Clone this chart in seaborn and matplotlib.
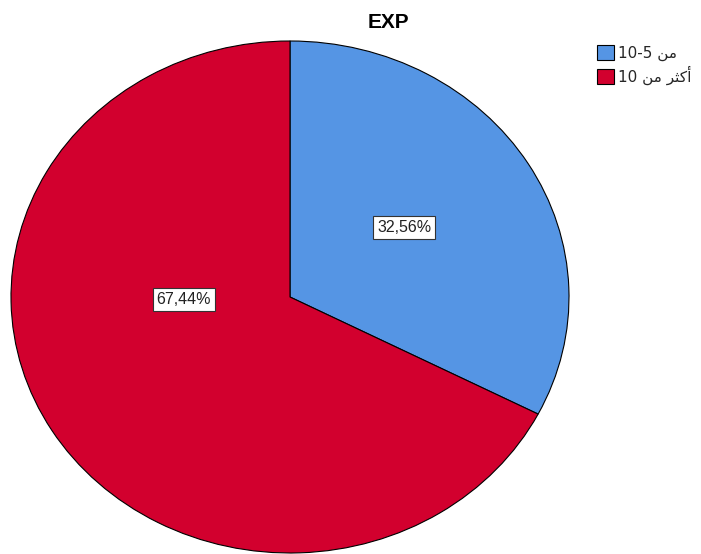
import matplotlib
matplotlib.use("Agg")
import matplotlib.pyplot as plt
import seaborn as sns

sns.set_theme(style="white")
plt.rcParams['font.family'] = ['Liberation Sans', 'DejaVu Sans']

# Data
categories = ["10-5 ﻦﻣ", "10 ﻦﻣ ﺮﺜﻛﺃ"]   # "من 5-10", "أكثر من 10" (visual order)
values = [32.56, 67.44]
pct_labels = ["32,56%", "67,44%"]
colors = ["#5595E4", "#D2002E"]
title = "EXP"

W, H = 701, 554
fig = plt.figure(figsize=(W / 100, H / 100), dpi=100)
fig.patch.set_facecolor("white")

# axes box matches the (elliptical) pie bounds in pixels
left, right, top, bottom = 11, 569, 41, 553
ax = fig.add_axes([left / W, (H - bottom) / H, (right - left) / W, (bottom - top) / H])

wedges, texts = ax.pie(
    values, colors=colors, startangle=90, counterclock=False,
    wedgeprops=dict(edgecolor="black", linewidth=0.8),
    radius=1.0, frame=False)
ax.set_aspect("auto")
ax.set_xlim(-1, 1)
ax.set_ylim(-1, 1)
ax.axis("off")

label_pos = [(0.41, 0.27), (-0.38, -0.01)]
for lab, (x, y) in zip(pct_labels, label_pos):
    ax.text(x, y, lab, ha="center", va="center", fontsize=11.5, color="#222222",
            bbox=dict(boxstyle="square,pad=0.25", facecolor="white",
                      edgecolor="#333333", linewidth=0.8))

fig.text(388 / W, 1 - 23 / H, title, ha="center", va="center",
         fontsize=15, fontweight="bold", color="black")

leg = fig.legend(wedges, categories, loc="upper left",
                 bbox_to_anchor=(583 / W, 1 - 31 / H), frameon=False,
                 handlelength=1.1, handleheight=1.2, handletextpad=0.3,
                 labelspacing=0.3,
                 prop={'family': ['DejaVu Sans'], 'size': 11})
plt.savefig("out.png", dpi=100, facecolor="white")
